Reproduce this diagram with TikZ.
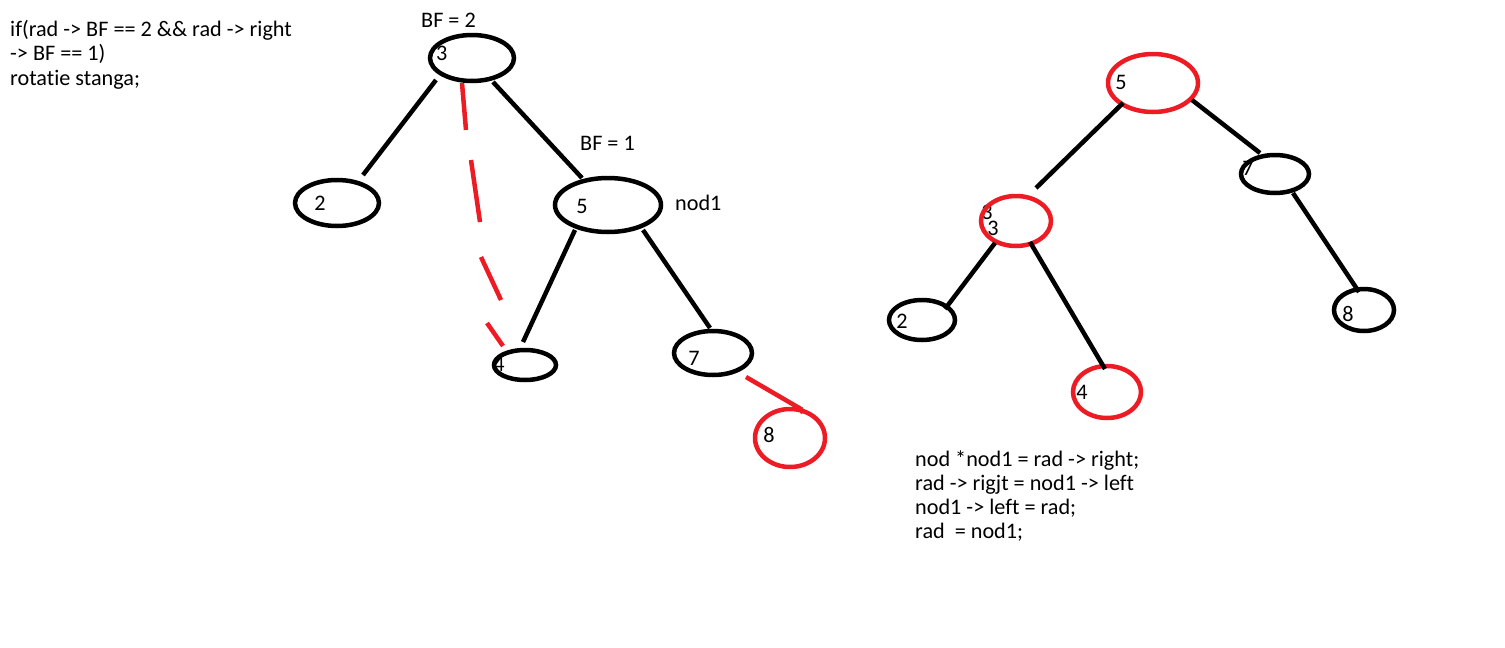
\documentclass[tikz,border=0pt]{standalone}
\usepackage{fontspec}
\setmainfont{Carlito}[Ligatures={NoCommon}]
\usetikzlibrary{shapes.geometric}
\definecolor{penred}{RGB}{237,28,36}
\tikzset{
  treenode/.style={shape=ellipse, draw=black, line width=4.5pt, inner sep=0pt, fill=none},
  rednode/.style={treenode, draw=penred},
  edge/.style={draw=black, line width=4.5pt},
  rededge/.style={draw=penred, line width=4.5pt},
  digit/.style={inner sep=0pt, anchor=center, font=\fontsize{22.2}{24.3}\selectfont},
  codetext/.style={inner sep=0pt, anchor=base west, font=\fontsize{22.2}{24.3}\selectfont},
}
\begin{document}
\begin{tikzpicture}[x=1pt, y=-1pt]
\useasboundingbox (0,0) rectangle (1505,648);

% rotation condition
\node[codetext] (c1) at (10,36.5) {if(rad -> BF == 2 \&\& rad -> right};
\node[codetext] (c2) at (10,60.7) {-> BF == 1)};
\node[codetext] (c3) at (10,85) {rotatie stanga;};

% ---------- tree before the rotation ----------
\node[treenode, minimum width=84pt, minimum height=46pt] (l3) at (472,58) {};
\node[treenode, minimum width=84pt, minimum height=46pt] (l2) at (337,203) {};
\node[treenode, minimum width=106pt, minimum height=54pt] (l5) at (608,205) {};
\node[treenode, minimum width=62pt, minimum height=30pt] (l4) at (525,365) {};
\node[treenode, minimum width=78pt, minimum height=44pt] (l7) at (713,353) {};
\node[rednode, minimum width=70pt, minimum height=58pt] (l8) at (790,438) {};

\node[digit] (l3t) at (441.7,53.3) {3};
\node[digit] (l2t) at (320,203) {2};
\node[digit] (l5t) at (582,206) {5};
\node[digit] (l4t) at (499,364) {4};
\node[digit] (l7t) at (694,358) {7};
\node[digit] (l8t) at (769,435) {8};

\node[codetext] (bf2) at (421,27) {BF = 2};
\node[codetext] (bf1) at (580,150.7) {BF = 1};
\node[codetext] (nod1) at (675,210) {nod1};

\draw[edge] ([shift={(-36,22)}]l3.center) -- ([shift={(26,-28)}]l2.center);
\draw[edge] ([shift={(21,24)}]l3.center) -- ([shift={(-26,-27)}]l5.center);
\draw[edge] ([shift={(-33,25)}]l5.center) -- ([shift={(-2,-23)}]l4.center);
\draw[edge] ([shift={(35,25)}]l5.center) -- ([shift={(-3,-25)}]l7.center);
\draw[rededge] ([shift={(33,24)}]l7.center) -- ([shift={(11,-29)}]l8.center)
  -- ([shift={(13,-25)}]l8.center);
% freehand dashed link from 3 down to 4
\draw[rededge] ([shift={(-10,25)}]l3.center) -- (466,130)
  (471,160) -- (480,222)
  (481,257) -- (501,300)
  (487,323) -- ([shift={(-22,-19)}]l4.center);

% ---------- tree after the left rotation ----------
\node[digit] (r3ta) at (987,212) {3};
\node[rednode, minimum width=90pt, minimum height=58pt] (r5) at (1153,83) {};
\node[treenode, minimum width=68pt, minimum height=38pt] (r7) at (1275,174) {};
\node[rednode, minimum width=70pt, minimum height=50pt] (r3) at (1016,221) {};
\node[treenode, minimum width=66pt, minimum height=40pt] (r2) at (922,320) {};
\node[rednode, minimum width=68pt, minimum height=52pt] (r4) at (1107,392) {};
\node[treenode, minimum width=60pt, minimum height=42pt] (r8) at (1364,310) {};

\node[digit] (r5t) at (1121,82) {5};
\node[digit] (r7t) at (1248,168) {7};
\node[digit] (r3tb) at (993,228) {3};
\node[digit] (r2t) at (902,321) {2};
\node[digit] (r4t) at (1082,392) {4};
\node[digit] (r8t) at (1348,314) {8};

\draw[edge] ([shift={(-30,20)}]r5.center) -- ([shift={(20,-33)}]r3.center);
\draw[edge] ([shift={(39,17)}]r5.center) -- ([shift={(-15,-21)}]r7.center);
\draw[edge] ([shift={(-21,22)}]r3.center) -- ([shift={(23,-11)}]r2.center);
\draw[edge] ([shift={(14,21)}]r3.center) -- ([shift={(-2,-23)}]r4.center);
\draw[edge] ([shift={(18,19)}]r7.center) -- ([shift={(-5,-18)}]r8.center);

% rotation code
\node[codetext] (d1) at (915,466) {nod *nod1 = rad -> right;};
\node[codetext] (d2) at (915,490) {rad -> rigjt = nod1 -> left};
\node[codetext] (d3) at (915,514) {nod1 -> left = rad;};
\node[codetext] (d4) at (915,538) {rad\ \ = nod1;};
\end{tikzpicture}
\end{document}
